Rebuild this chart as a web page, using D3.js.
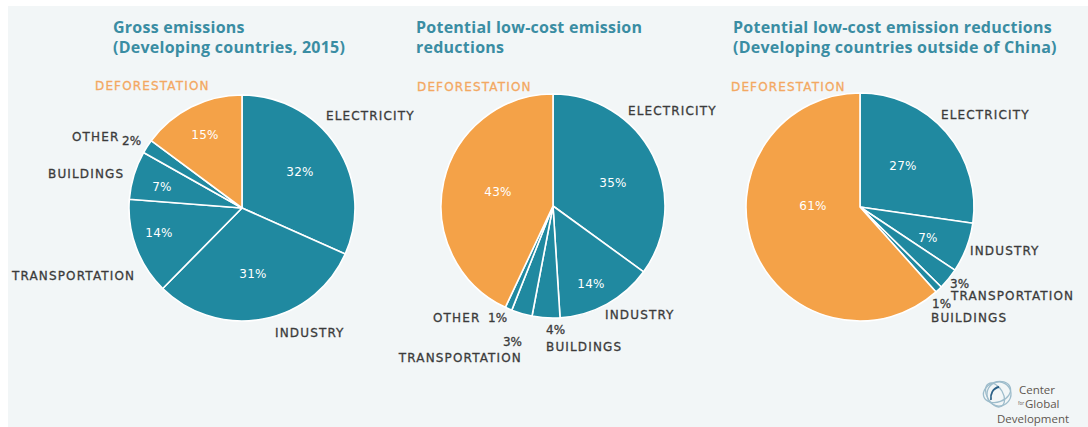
<!DOCTYPE html>
<html>
<head>
<meta charset="utf-8">
<script src="https://cdn.jsdelivr.net/npm/d3@7"></script>
<style>
  html, body { margin: 0; padding: 0; background: #ffffff; }
  svg { display: block; }
</style>
</head>
<body>
<svg id="chart" width="1088" height="427"></svg>
<script>
// ---------- DATA ----------
const titles1 = ["Gross emissions", "(Developing countries, 2015)"];
const categories1 = ["ELECTRICITY", "INDUSTRY", "TRANSPORTATION", "BUILDINGS", "OTHER", "DEFORESTATION"];
const values1 = [32, 31, 14, 7, 2, 15];

const titles2 = ["Potential low-cost emission", "reductions"];
const categories2 = ["ELECTRICITY", "INDUSTRY", "BUILDINGS", "TRANSPORTATION", "OTHER", "DEFORESTATION"];
const values2 = [35, 14, 4, 3, 1, 43];

const titles3 = ["Potential low-cost emission reductions", "(Developing countries outside of China)"];
const categories3 = ["ELECTRICITY", "INDUSTRY", "TRANSPORTATION", "BUILDINGS", "DEFORESTATION"];
const values3 = [27, 7, 3, 1, 61];

const logoLines = ["Center", "Global", "Development"];

// ---------- LAYOUT (annotation placement, relative to each pie centre) ----------
const TEAL = "#2089a0", ORANGE = "#f4a248", TITLE = "#3a8da3", LABEL = "#3b3b3b", ORANGE_LABEL = "#f3a862";

// inside: percent label inside slice; name: outer label; pct: outer percent
const layouts = [
  { cx: 242, cy: 208, r: 113, tx: 113,
    labels: {
      "ELECTRICITY":    { inside: [58, -36], name: [84, -92, "start"] },
      "INDUSTRY":       { inside: [11, 66],  name: [33, 125, "start"] },
      "TRANSPORTATION": { inside: [-83, 25], name: [-230, 68, "start"] },
      "BUILDINGS":      { inside: [-80, -21], name: [-194, -34, "start"] },
      "OTHER":          { name: [-170, -71, "start"], pct: [-120, -67, "start"] },
      "DEFORESTATION":  { inside: [-37, -73], name: [-147, -122, "start"] }
    } },
  { cx: 553, cy: 206, r: 112, tx: 416,
    labels: {
      "ELECTRICITY":    { inside: [60, -23], name: [75, -95, "start"] },
      "INDUSTRY":       { inside: [38, 78], name: [52, 109, "start"] },
      "BUILDINGS":      { name: [-7, 141, "start"], pct: [-7, 124, "start"] },
      "TRANSPORTATION": { name: [-31, 152, "end"], pct: [-31, 136, "end"] },
      "OTHER":          { name: [-120, 112, "start"], pct: [-65, 112, "start"] },
      "DEFORESTATION":  { inside: [-55, -14], name: [-136, -119, "start"] }
    } },
  { cx: 860, cy: 207, r: 114, tx: 733,
    labels: {
      "ELECTRICITY":    { inside: [43, -41], name: [81, -92, "start"] },
      "INDUSTRY":       { inside: [68, 31], name: [110, 44, "start"] },
      "TRANSPORTATION": { name: [91, 89, "start"], pct: [90, 77, "start"] },
      "BUILDINGS":      { name: [71, 111, "start"], pct: [72, 97, "start"] },
      "DEFORESTATION":  { inside: [-47, -1], name: [-129, -120, "start"] }
    } }
];

const charts = [
  { titles: titles1, cats: categories1, vals: values1 },
  { titles: titles2, cats: categories2, vals: values2 },
  { titles: titles3, cats: categories3, vals: values3 }
];

const svg = d3.select("#chart");

// panel background
svg.append("rect").attr("x", 8).attr("y", 6).attr("width", 1080).attr("height", 421)
  .attr("fill", "#f2f6f7");

const color = d3.scaleOrdinal()
  .domain(["ELECTRICITY", "INDUSTRY", "TRANSPORTATION", "BUILDINGS", "OTHER", "DEFORESTATION"])
  .range([TEAL, TEAL, TEAL, TEAL, TEAL, ORANGE]);

const pie = d3.pie().sort(null).value(d => d.value).startAngle(0).endAngle(2 * Math.PI);

const labelFont = "'DejaVu Sans', sans-serif";

charts.forEach((c, i) => {
  const L = layouts[i];
  const data = c.cats.map((k, j) => ({ key: k, value: c.vals[j] }));
  const arcs = pie(data);
  const arc = d3.arc().innerRadius(0).outerRadius(L.r);

  // title
  const t = svg.append("text")
    .attr("x", L.tx).attr("y", 33)
    .attr("fill", TITLE)
    .style("font-family", "'Open Sans', sans-serif")
    .style("font-weight", "700")
    .style("font-size", "16px")
    .style("letter-spacing", "0.25px");
  c.titles.forEach((line, k) => {
    t.append("tspan").attr("x", L.tx).attr("dy", k === 0 ? 0 : 20).text(line);
  });

  const g = svg.append("g").attr("transform", `translate(${L.cx},${L.cy})`);

  g.selectAll("path.slice").data(arcs).join("path")
    .attr("class", "slice")
    .attr("d", arc)
    .attr("fill", d => color(d.data.key))
    .attr("stroke", "#ffffff")
    .attr("stroke-width", 1.6)
    .attr("stroke-linejoin", "round");

  arcs.forEach(d => {
    const lab = L.labels[d.data.key];
    const pctText = d.data.value + "%";
    if (lab.inside) {
      g.append("text")
        .attr("x", lab.inside[0]).attr("y", lab.inside[1])
        .attr("text-anchor", "middle").attr("dominant-baseline", "central")
        .attr("fill", "#ffffff")
        .style("font-family", labelFont).style("font-size", "12px")
        .style("letter-spacing", "0.3px")
        .text(pctText);
    }
    if (lab.name) {
      const fill = d.data.key === "DEFORESTATION" ? ORANGE_LABEL : LABEL;
      g.append("text")
        .attr("x", lab.name[0]).attr("y", lab.name[1])
        .attr("text-anchor", lab.name[2]).attr("dominant-baseline", "central")
        .attr("fill", fill).attr("stroke", fill).attr("stroke-width", 0.3)
        .style("font-family", labelFont).style("font-size", "12px")
        .style("letter-spacing", "1.15px")
        .text(d.data.key);
    }
    if (lab.pct) {
      g.append("text")
        .attr("x", lab.pct[0]).attr("y", lab.pct[1])
        .attr("text-anchor", lab.pct[2]).attr("dominant-baseline", "central")
        .attr("fill", LABEL).attr("stroke", LABEL).attr("stroke-width", 0.3)
        .style("font-family", labelFont).style("font-size", "12px")
        .text(pctText);
    }
  });
});

// logo
const logo = svg.append("g").attr("transform", "translate(997,392)");
[[0, 0, 14, 10, -20], [2, 2, 12, 12, 30], [-2, 3, 13, 8, 60]].forEach(e => {
  logo.append("ellipse").attr("cx", e[0]).attr("cy", e[1]).attr("rx", e[2]).attr("ry", e[3])
    .attr("transform", `rotate(${e[4]} ${e[0]} ${e[1]})`)
    .attr("fill", "none").attr("stroke", "#9dbccb").attr("stroke-width", 1.3);
});
logo.append("path").attr("d", "M-6,8 C-7,2 -4,-4 2,-5")
  .attr("fill", "none").attr("stroke", "#2a5f86").attr("stroke-width", 1.8);
const logoFont = "'Open Sans', sans-serif";
svg.append("text").attr("x", 1019).attr("y", 394).text(logoLines[0])
  .attr("fill", "#5e5650").style("font-family", logoFont).style("font-size", "11.5px");
svg.append("text").attr("x", 1018).attr("y", 405).text("for")
  .attr("fill", "#5e5650").style("font-family", logoFont).style("font-size", "4.5px");
svg.append("text").attr("x", 1025).attr("y", 408).text(logoLines[1])
  .attr("fill", "#5e5650").style("font-family", logoFont).style("font-size", "11.5px");
svg.append("text").attr("x", 997).attr("y", 423).text(logoLines[2])
  .attr("fill", "#5e5650").style("font-family", logoFont).style("font-size", "11.5px");
</script>
</body>
</html>
